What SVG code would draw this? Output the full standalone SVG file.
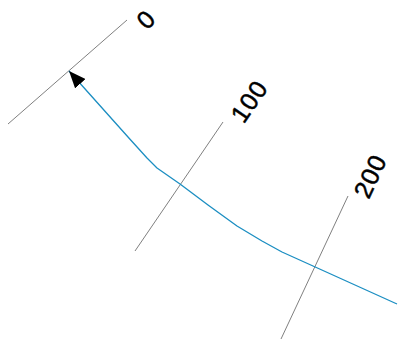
<svg xmlns="http://www.w3.org/2000/svg" width="401" height="342" viewBox="0 0 401 342">
<style>
.tick{stroke:#808080;stroke-width:1;fill:none}
.route{stroke:#1b8ec2;stroke-width:1.3;fill:none;stroke-linejoin:round}
.lbl{font-family:"Liberation Sans",Arial,sans-serif;font-size:25px;fill:#000;stroke:#000;stroke-width:0.5;letter-spacing:1px;text-anchor:middle;dominant-baseline:central}
</style>
<defs>
<marker id="arr" markerUnits="userSpaceOnUse" viewBox="0 -7 17 14" refX="0" refY="0" markerWidth="17" markerHeight="14" orient="auto">
<path d="M0,0 L17,-7 L17,7 z" fill="#000"/>
</marker>
</defs>
<g id="tick0">
<line class="tick" x1="8" y1="124" x2="127" y2="20"/>
<text class="lbl" transform="translate(146,19) rotate(-45)">0</text>
</g>
<g id="tick100">
<line class="tick" x1="135" y1="251" x2="223" y2="122"/>
<text class="lbl" transform="translate(249,101) rotate(-55.7)">100</text>
</g>
<g id="tick200">
<line class="tick" x1="281" y1="339" x2="348" y2="196"/>
<text class="lbl" transform="translate(370,176) rotate(-65)">200</text>
</g>
<g id="connectors">
<polyline class="route" marker-start="url(#arr)" points="69,71 128,137 147,158 157,168 180,184 208,205 237,226 262,241 282,252 313,266 397,304"/>
</g>
</svg>
